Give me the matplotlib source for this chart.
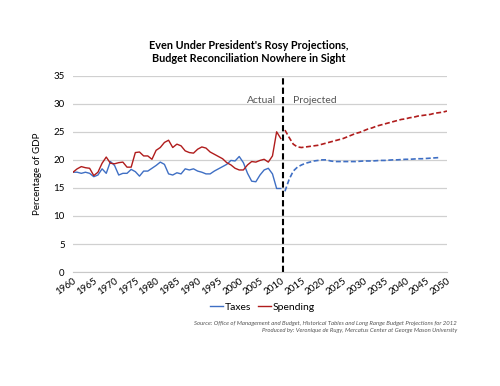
import numpy as np
import matplotlib.pyplot as plt

plt.rcParams['font.family'] = ['Lato', 'DejaVu Sans']

# historical data, % of GDP
years_actual = list(range(1960, 2011))
taxes_actual = [17.8, 17.8, 17.6, 17.8, 17.6, 17.0, 17.3, 18.4, 17.6, 19.7,
                19.0, 17.3, 17.6, 17.6, 18.3, 17.9, 17.1, 18.0, 18.0, 18.5,
                19.0, 19.6, 19.2, 17.5, 17.3, 17.7, 17.5, 18.4, 18.2, 18.4,
                18.0, 17.8, 17.5, 17.5, 18.0, 18.4, 18.8, 19.2, 19.9, 19.8,
                20.6, 19.5, 17.6, 16.2, 16.1, 17.3, 18.2, 18.5, 17.5, 14.9,
                14.9]
spending_actual = [17.8, 18.4, 18.8, 18.6, 18.5, 17.2, 17.8, 19.4, 20.5, 19.4,
                   19.3, 19.5, 19.6, 18.7, 18.7, 21.3, 21.4, 20.7, 20.7, 20.1,
                   21.7, 22.2, 23.1, 23.5, 22.2, 22.8, 22.5, 21.6, 21.3, 21.2,
                   21.9, 22.3, 22.1, 21.4, 21.0, 20.6, 20.2, 19.5, 19.1, 18.5,
                   18.2, 18.2, 19.1, 19.7, 19.6, 19.9, 20.1, 19.6, 20.7, 25.0,
                   23.8]

# projections
years_spend_proj = list(range(2011, 2051))
spending_proj = [25.3, 24.0, 22.8, 22.3, 22.2, 22.3, 22.4, 22.5, 22.6, 22.8,
                 23.0, 23.2, 23.4, 23.6, 23.8, 24.1, 24.4, 24.7, 24.9, 25.2,
                 25.5, 25.7, 26.0, 26.2, 26.4, 26.6, 26.8, 27.0, 27.2, 27.3,
                 27.5, 27.6, 27.8, 27.9, 28.0, 28.1, 28.3, 28.4, 28.5, 28.7]
years_tax_proj = list(range(2011, 2049))
taxes_proj = [14.4, 16.5, 18.0, 18.7, 19.1, 19.4, 19.6, 19.8, 19.9, 20.0,
              20.0, 19.8, 19.7, 19.7, 19.7, 19.7, 19.7, 19.7, 19.75, 19.8,
              19.8, 19.8, 19.85, 19.9, 19.9, 19.95, 20.0, 20.0, 20.05, 20.1,
              20.1, 20.15, 20.2, 20.2, 20.25, 20.3, 20.35, 20.4]

blue = '#3f6fc4'
red = '#b01c1c'

fig = plt.figure(figsize=(5, 3.86), dpi=100)
ax = fig.add_axes([0.146, 0.295, 0.748, 0.509])

ax.plot(years_actual, taxes_actual, color=blue, lw=1.0, label='Taxes')
ax.plot(years_actual, spending_actual, color=red, lw=1.0, label='Spending')
ax.plot(years_tax_proj, taxes_proj, color=blue, lw=1.2, ls=(0, (3, 1.5)))
ax.plot(years_spend_proj, spending_proj, color=red, lw=1.2, ls=(0, (3, 1.5)))
ax.axvline(2010.6, color='black', lw=1.5, ls=(0, (3, 1.5)))

ax.set_xlim(1960, 2050)
ax.set_ylim(0, 35)
ax.set_yticks(range(0, 36, 5))
ax.set_xticks(range(1960, 2051, 5))
ax.set_xticklabels([str(y) for y in range(1960, 2051, 5)], rotation=35,
                   ha='right', rotation_mode='anchor', fontsize=7)
ax.tick_params(axis='y', labelsize=7, length=0, pad=6)
ax.tick_params(axis='x', length=0, pad=3)
ax.grid(axis='y', color='#d0d0d0', lw=0.9)
ax.set_axisbelow(True)
for s in ['top', 'right', 'left']:
    ax.spines[s].set_visible(False)
ax.spines['bottom'].set_color('#c8c8c8')
ax.set_ylabel('Percentage of GDP', fontsize=7, labelpad=8)

ax.text(2008.8, 30.5, 'Actual', ha='right', va='center', fontsize=7.5,
        color='#555555')
ax.text(2013, 30.5, 'Projected', ha='left', va='center', fontsize=7.5,
        color='#555555')

fig.text(0.497, 0.866, "Even Under President's Rosy Projections,\n"
         "Budget Reconciliation Nowhere in Sight", ha='center', va='center',
         fontsize=7.8, fontweight='bold', linespacing=1.25)

fig.legend(loc='center', bbox_to_anchor=(0.525, 0.205), ncol=2,
           frameon=False, fontsize=7.5, handlelength=1.3, handletextpad=0.15,
           columnspacing=0.6)

fig.text(0.914, 0.152, 'Source: Office of Management and Budget, Historical '
         'Tables and Long Range Budget Projections for 2012\n'
         'Produced by: Veronique de Rugy, Mercatus Center at George Mason '
         'University', ha='right', va='center', fontsize=4.3,
         style='italic', color='#555555', linespacing=1.5)

fig.savefig('out.png', dpi=100)
